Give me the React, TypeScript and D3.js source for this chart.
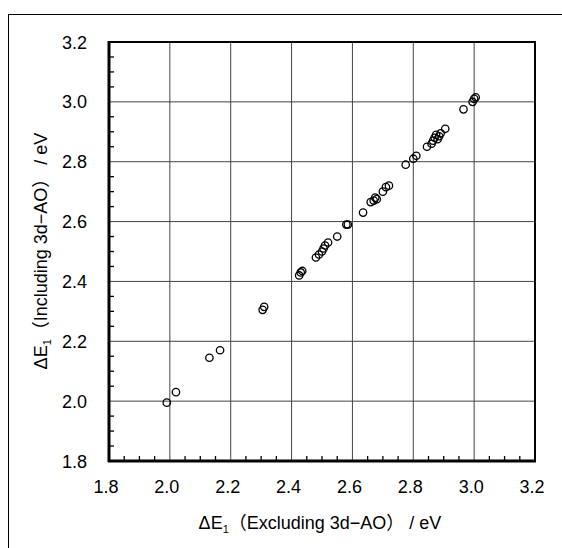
import React from "react";
import * as d3 from "d3";

const xVals = [1.99, 2.02, 2.13, 2.165, 2.305, 2.31, 2.425, 2.43, 2.435, 2.48, 2.49, 2.5, 2.505, 2.51, 2.52, 2.55, 2.58, 2.585, 2.635, 2.66, 2.67, 2.675, 2.68, 2.7, 2.71, 2.72, 2.775, 2.8, 2.81, 2.845, 2.86, 2.865, 2.87, 2.875, 2.88, 2.885, 2.89, 2.905, 2.965, 2.995, 3.0, 3.005];
const yVals = [1.995, 2.03, 2.145, 2.17, 2.305, 2.315, 2.42, 2.43, 2.435, 2.48, 2.49, 2.5, 2.51, 2.52, 2.53, 2.55, 2.59, 2.59, 2.63, 2.665, 2.67, 2.68, 2.675, 2.7, 2.715, 2.72, 2.79, 2.81, 2.82, 2.85, 2.86, 2.87, 2.88, 2.89, 2.875, 2.885, 2.895, 2.91, 2.975, 3.0, 3.01, 3.015];
const majorTicks = [1.8, 2.0, 2.2, 2.4, 2.6, 2.8, 3.0, 3.2];
const tickLabels = ["1.8", "2.0", "2.2", "2.4", "2.6", "2.8", "3.0", "3.2"];
const minorTicks = d3.range(0, 29).map((i) => 1.8 + i * 0.05);

const FONT = "'Liberation Sans', Arial, 'Noto Sans CJK JP', sans-serif";

export default function App() {
  const left = 109, right = 535, top = 42, bottom = 461;
  const x = d3.scaleLinear().domain([1.8, 3.2]).range([left, right]);
  const y = d3.scaleLinear().domain([1.8, 3.2]).range([bottom, top]);

  return (
    <svg width={562} height={548} style={{ position: "absolute", left: 0, top: 0, background: "#fff" }}>
      <rect x={0} y={0} width={562} height={548} fill="#fff" />
      <rect x={8.5} y={14.5} width={700} height={700} fill="none" stroke="#000" strokeWidth={1} />
      {/* grid */}
      {majorTicks.slice(1, -1).map((t) => (
        <g key={"g" + t}>
          <line x1={x(t)} x2={x(t)} y1={top} y2={bottom} stroke="#444" strokeWidth={1} />
          <line x1={left} x2={right} y1={y(t)} y2={y(t)} stroke="#444" strokeWidth={1} />
        </g>
      ))}
      {/* minor ticks */}
      {minorTicks.map((t, i) =>
        i % 4 === 0 ? null : (
          <g key={"m" + i}>
            <line x1={x(t)} x2={x(t)} y1={bottom} y2={bottom - 5} stroke="#000" strokeWidth={1.3} />
            <line x1={left} x2={left + 5} y1={y(t)} y2={y(t)} stroke="#000" strokeWidth={1.3} />
          </g>
        )
      )}
      {/* frame */}
      <rect x={left} y={top} width={right - left} height={bottom - top} fill="none" stroke="#000" strokeWidth={2} />
      <line x1={left} x2={left} y1={top - 1} y2={bottom + 1} stroke="#000" strokeWidth={3} />
      <line x1={left - 1} x2={right + 1} y1={bottom} y2={bottom} stroke="#000" strokeWidth={3} />
      {/* points */}
      {xVals.map((v, i) => (
        <circle key={"p" + i} cx={x(v)} cy={y(yVals[i])} r={3.7} fill="none" stroke="#000" strokeWidth={1.3} />
      ))}
      {/* tick labels */}
      {majorTicks.map((t, i) => (
        <text key={"xl" + i} x={x(t) - 3} y={493} textAnchor="middle" fontFamily={FONT} fontSize={18} fill="#000">
          {tickLabels[i]}
        </text>
      ))}
      {majorTicks.map((t, i) => (
        <text key={"yl" + i} x={87} y={y(t) + 6.5} textAnchor="end" fontFamily={FONT} fontSize={18} fill="#000">
          {tickLabels[i]}
        </text>
      ))}
      {/* axis titles */}
      <text x={320} y={529} textAnchor="middle" fontFamily={FONT} fontSize={18} fill="#000">
        <tspan>ΔE</tspan>
        <tspan fontSize={11} dy={4}>1</tspan>
        <tspan dy={-4}>（Excluding 3d−AO） / eV</tspan>
      </text>
      <text transform={`translate(47,251) rotate(-90)`} textAnchor="middle" fontFamily={FONT} fontSize={18} fill="#000">
        <tspan>ΔE</tspan>
        <tspan fontSize={11} dy={4}>1</tspan>
        <tspan dy={-4}>（Including 3d−AO） / eV</tspan>
      </text>
    </svg>
  );
}
